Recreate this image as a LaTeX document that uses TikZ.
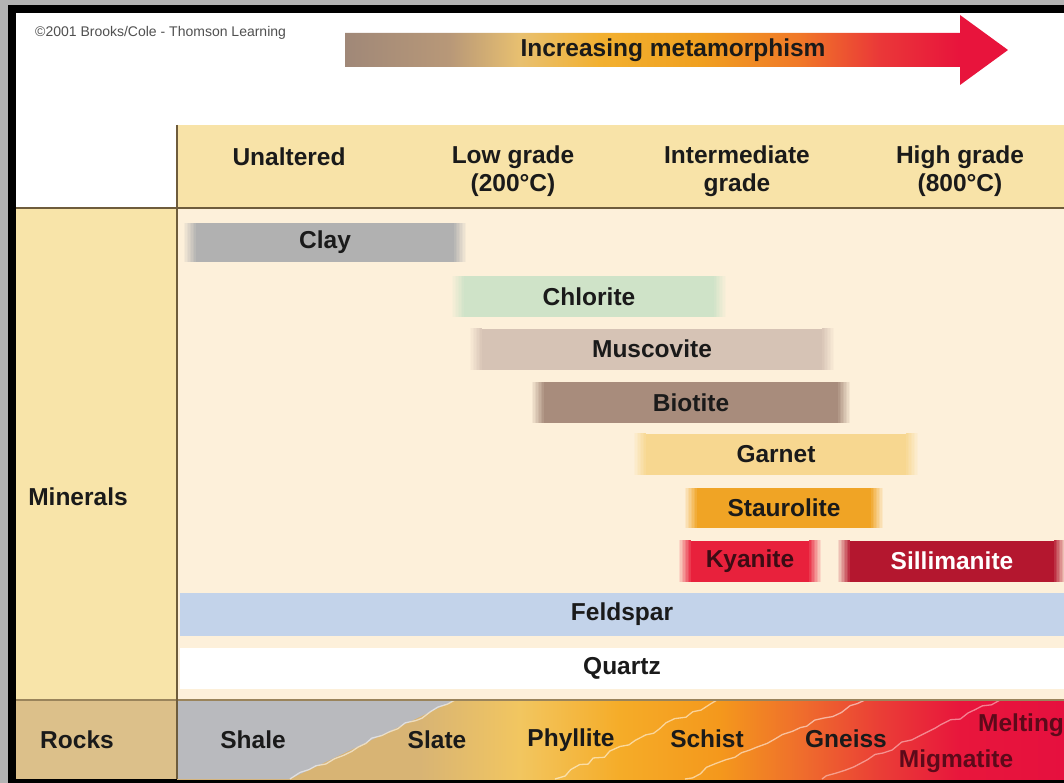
\documentclass[tikz,border=0pt]{standalone}
\usepackage{fontspec}
\setmainfont{Liberation Sans}
\usetikzlibrary{decorations.pathmorphing}

\definecolor{framegray}{HTML}{B3B3B3}
\definecolor{headc}{HTML}{F8E3A8}
\definecolor{leftc}{HTML}{F8E4A9}
\definecolor{creamc}{HTML}{FDF0DA}
\definecolor{rockleftc}{HTML}{DCC08A}
\definecolor{shalec}{HTML}{B9BABE}
\definecolor{gridc}{HTML}{6E5C3C}
\definecolor{txtc}{HTML}{1A1A1A}
\definecolor{copyc}{HTML}{505050}
\definecolor{clayc}{HTML}{B1B1B1}
\definecolor{chloc}{HTML}{CFE3C8}
\definecolor{muscc}{HTML}{D6C3B5}
\definecolor{biotc}{HTML}{A88C7C}
\definecolor{garnc}{HTML}{F7D790}
\definecolor{stauc}{HTML}{F0A425}
\definecolor{kyanc}{HTML}{E8213C}
\definecolor{sillc}{HTML}{B4172F}
\definecolor{feldc}{HTML}{C3D3EA}
\definecolor{kyantxt}{HTML}{3C0C14}
\definecolor{melttxt}{HTML}{5C0A1A}
% arrow colours
\definecolor{arA}{HTML}{A08878}
\definecolor{arB}{HTML}{B89878}
\definecolor{arC}{HTML}{E8C070}
\definecolor{arD}{HTML}{F2B030}
\definecolor{arE}{HTML}{F0A020}
\definecolor{arF}{HTML}{F07828}
\definecolor{arG}{HTML}{EA3838}
\definecolor{arH}{HTML}{E8143C}
% rock colours
\definecolor{rkA}{HTML}{D8B474}
\definecolor{rkB}{HTML}{F2C660}
\definecolor{rkC}{HTML}{F5AC28}
\definecolor{rkD}{HTML}{F4981C}
\definecolor{rkE}{HTML}{EF6E2C}
\definecolor{rkF}{HTML}{EA3E36}
\definecolor{rkG}{HTML}{E8163C}
\definecolor{rkH}{HTML}{E6103E}

\pgfdeclarehorizontalshading{arrowshade}{100bp}{color(0bp)=(arA); color(25bp)=(arA); color(32.9bp)=(arB); color(38.2bp)=(arC); color(44.2bp)=(arD); color(51.8bp)=(arE); color(59.3bp)=(arF); color(65.3bp)=(arG); color(71.3bp)=(arH); color(75bp)=(arH); color(100bp)=(arH)}
\pgfdeclarehorizontalshading{rockshade}{100bp}{color(0bp)=(rkA); color(25bp)=(rkA); color(38.7bp)=(rkA); color(44.3bp)=(rkB); color(50bp)=(rkC); color(55.6bp)=(rkD); color(60.1bp)=(rkE); color(64.6bp)=(rkF); color(69.1bp)=(rkG); color(75bp)=(rkH); color(100bp)=(rkH)}

% soft ends of a bar: overlapping strips mixing the bar colour into the cream
\newcommand{\barfade}[2]{%
  \foreach \k in {1,...,8}{%
    \pgfmathtruncatemacro{\pc}{\k*11}%
    \pgfmathsetmacro{\fa}{-13.5+1.5*\k}%
    \pgfmathsetmacro{\fc}{13.5-1.5*\k}%
    \fill[#2!\pc!creamc] ([xshift=\fa pt]#1.south west) rectangle ([xshift=0.5pt]#1.north west);
    \fill[#2!\pc!creamc] ([xshift=\fc pt]#1.south east) rectangle ([xshift=-0.5pt]#1.north east);
  }}

\tikzset{
  lbl/.style={font=\bfseries\fontsize{24.5}{28}\selectfont, text=txtc, inner sep=0pt, align=center},
  mbar/.style={lbl, minimum height=41pt, anchor=center},
  gridline/.style={draw=gridc, line width=2pt},
  crack/.style={draw=white, opacity=0.55, line width=1.3pt, decorate,
    decoration={random steps, segment length=9pt, amplitude=2.2pt}}
}

\begin{document}
\begin{tikzpicture}[x=1pt,y=-1pt]
\useasboundingbox (0,0) rectangle (1064,783);
\fill[framegray] (0,0) rectangle (1064,783);
\fill[black] (8,5) rectangle (1064,783);
\begin{scope}
\clip (16,13) rectangle (1064,779);
\fill[white] (16,13) rectangle (1064,779);
% backgrounds
\fill[headc] (177,125) rectangle (1064,208);
\fill[leftc] (16,208) rectangle (177,700);
\fill[creamc] (177,208) rectangle (1064,700);
\fill[rockleftc] (16,700) rectangle (177,779);
\shade[shading=rockshade] (177,700) rectangle (1064,779);
\fill[shalec] (177,700) -- (455,700) -- (290,779) -- (177,779) -- cycle;
\pgfmathsetseed{7}
\draw[crack] (455,700) -- (290,779);
\draw[crack] (717,700) -- (555,779);
\draw[crack] (865,700) -- (685,779);
\draw[crack, draw=pink!60!white] (1000,700) -- (822,779);
% grid lines
\draw[gridline] (16,208) -- (1064,208);
\draw[draw=gridc!60!rockleftc, line width=1.2pt] (16,700) -- (1064,700);
\draw[gridline] (177,125) -- (177,779);

% copyright
\node[font=\fontsize{14}{16}\selectfont, text=copyc, anchor=west, inner sep=0pt] (copy) at (35,33) {©2001 Brooks/Cole - Thomson Learning};

% arrow
\shade[shading=arrowshade] (345,33) -- (960,33) -- (960,15) -- (1008,50) -- (960,85) -- (960,67) -- (345,67) -- cycle;
\node[lbl] (arrowtxt) at (673,50) {Increasing metamorphism};

% header
\node[lbl] (unalt) at (289,157) {Unaltered};
\node[lbl] (low) at (513,171) {Low grade\\(200°C)};
\node[lbl] (inter) at (737,171) {Intermediate\\grade};
\node[lbl] (high) at (960,171) {High grade\\(800°C)};

% row labels
\node[lbl] (minerals) at (78,497) {Minerals};
\node[lbl] (rocks) at (77,740) {Rocks};

% mineral bars
\node[mbar, fill=clayc, minimum width=258pt, minimum height=39pt] (clay) at (325,242.5) {Clay};
\barfade{clay}{clayc}
\node[mbar, fill=chloc, minimum width=250pt] (chlorite) at (589,296.5) {Chlorite};
\barfade{chlorite}{chloc}
\node[mbar, fill=muscc, minimum width=340pt] (muscovite) at (652,349) {Muscovite};
\barfade{muscovite}{muscc}
\node[mbar, fill=biotc, minimum width=294pt] (biotite) at (691,402.5) {Biotite};
\barfade{biotite}{biotc}
\node[mbar, fill=garnc, minimum width=260pt] (garnet) at (776,454) {Garnet};
\barfade{garnet}{garnc}
\node[mbar, fill=stauc, minimum width=174pt, minimum height=40pt] (staurolite) at (784,508) {Staurolite};
\barfade{staurolite}{stauc}
\node[mbar, fill=kyanc, minimum width=118pt, text=kyantxt] (kyanite) at (750,561) {Kyanite};
\barfade{kyanite}{kyanc}
\node[mbar, fill=sillc, minimum width=204pt, text=white] (sillimanite) at (952,561) {Sillimanite};
\barfade{sillimanite}{sillc}
\node[mbar, fill=feldc, minimum width=884pt, minimum height=43pt] (feldspar) at (622,614.5) {Feldspar};
\node[mbar, fill=white, minimum width=884pt] (quartz) at (622,668.5) {Quartz};

% rocks
\node[lbl] (shale) at (253,740) {Shale};
\node[lbl] (slate) at (437,740) {Slate};
\node[lbl] (phyllite) at (571,740) {Phyllite};
\node[lbl] (schist) at (707,739) {Schist};
\node[lbl] (gneiss) at (846,739) {Gneiss};
\node[lbl, text=melttxt, anchor=west] (melting) at (978,725) {Melting};
\node[lbl, text=melttxt] (migmatite) at (956,761) {Migmatite};
\end{scope}
\end{tikzpicture}
\end{document}
